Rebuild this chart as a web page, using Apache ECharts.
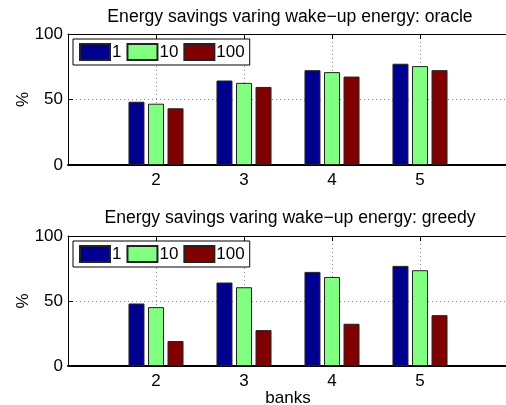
<!DOCTYPE html>
<html><head><meta charset="utf-8">
<script src="https://cdn.jsdelivr.net/npm/echarts@6/dist/echarts.min.js"></script>
<style>html,body{margin:0;padding:0;background:#fff;overflow:hidden;width:506px;height:405px}#c{width:512px;height:405px}</style>
</head><body><div id="c"></div>
<script>
const banks = [2, 3, 4, 5];
const seriesNames = ['1', '10', '100'];
const oracle1 = [48.3, 64.5, 72.4, 77.3];
const oracle10 = [46.8, 62.7, 70.9, 75.5];
const oracle100 = [43.3, 59.6, 67.5, 72.4];
const greedy1 = [48.1, 64.2, 72.4, 77.0];
const greedy10 = [45.3, 60.6, 68.5, 73.7];
const greedy100 = [19.2, 27.6, 32.5, 39.1];
const yTicks = [0, 50, 100];
const titles = ['Energy savings varing wake\u2212up energy: oracle', 'Energy savings varing wake\u2212up energy: greedy'];
const colors = ['#00008F', '#80FF80', '#800000'];

const FONT = 'Liberation Sans, Arial, Helvetica, sans-serif';
const chart = echarts.init(document.getElementById('c'), null, {renderer: 'canvas'});

const grids = [
  {left: 68, top: 34, width: 440, height: 131, outerBoundsMode: 'none', containLabel: false},
  {left: 68, top: 236, width: 440, height: 130, outerBoundsMode: 'none', containLabel: false}
];
function xAxis(i) {
  return {
    type: 'value', gridIndex: i, min: 1, max: 6, interval: 1,
    axisLine: {show: true, lineStyle: {color: '#000', width: 2}},
    axisTick: {show: true, inside: true, length: 5, lineStyle: {color: '#000'}},
    axisLabel: {
      color: '#000', fontSize: 17, fontFamily: FONT, margin: 7,
      formatter: v => banks.indexOf(v) >= 0 ? String(v) : ''
    },
    splitLine: {show: true, lineStyle: {color: '#888', type: [1, 3], width: 1}},
    name: i === 1 ? 'banks' : '', nameLocation: 'middle', nameGap: 24, nameMoveOverlap: false,
    nameTextStyle: {color: '#000', fontSize: 17, fontFamily: FONT}
  };
}
function xTop(i) {
  return {
    type: 'value', gridIndex: i, position: 'top', min: 1, max: 6, interval: 1,
    axisLine: {show: true, lineStyle: {color: '#000', width: 1}},
    axisTick: {show: true, inside: true, length: 5, lineStyle: {color: '#000'}},
    axisLabel: {show: false}, splitLine: {show: false}
  };
}
function yAxis(i) {
  return {
    type: 'value', gridIndex: i, min: yTicks[0], max: yTicks[yTicks.length - 1], interval: 50,
    axisLine: {show: true, lineStyle: {color: '#000', width: 1}},
    axisTick: {show: true, inside: true, length: 5, lineStyle: {color: '#000'}},
    axisLabel: {color: '#000', fontSize: 17, fontFamily: FONT, margin: 5},
    splitLine: {show: true, lineStyle: {color: '#888', type: [1, 3], width: 1}},
    name: '%', nameLocation: 'middle', nameGap: 36, nameRotate: 90, nameMoveOverlap: false,
    nameTextStyle: {color: '#000', fontSize: 17, fontFamily: FONT}
  };
}
function bar(name, vals, idx, g) {
  return {
    type: 'bar', name: name, xAxisIndex: g * 2, yAxisIndex: g,
    data: banks.map((b, k) => [b, vals[k]]),
    barWidth: 16, barGap: '22%',
    itemStyle: {color: colors[idx], borderColor: '#222', borderWidth: 1},
    emphasis: {disabled: true}, animation: false
  };
}
const legendBase = {
  data: seriesNames, left: 73, itemWidth: 30, itemHeight: 16, itemGap: 5,
  padding: [4, 5, 4, 6], backgroundColor: '#fff', borderColor: '#000', borderWidth: 1,
  textStyle: {color: '#000', fontSize: 17, fontFamily: FONT, padding: [0, 0, 0, -3]},
  icon: 'rect', selectedMode: false
};
chart.setOption({
  animation: false,
  title: titles.map((t, i) => ({
    text: t, left: 285, top: i === 0 ? 3 : 204, textAlign: 'center',
    textStyle: {color: '#000', fontSize: 17.6, fontWeight: 'normal', fontFamily: FONT}
  })),
  legend: [
    Object.assign({}, legendBase, {top: 39}),
    Object.assign({}, legendBase, {top: 241})
  ],
  grid: grids,
  xAxis: [xAxis(0), xTop(0), xAxis(1), xTop(1)],
  yAxis: [yAxis(0), yAxis(1)],
  series: [
    bar('1', oracle1, 0, 0), bar('10', oracle10, 1, 0), bar('100', oracle100, 2, 0),
    bar('1', greedy1, 0, 1), bar('10', greedy10, 1, 1), bar('100', greedy100, 2, 1)
  ]
});
</script></body></html>
